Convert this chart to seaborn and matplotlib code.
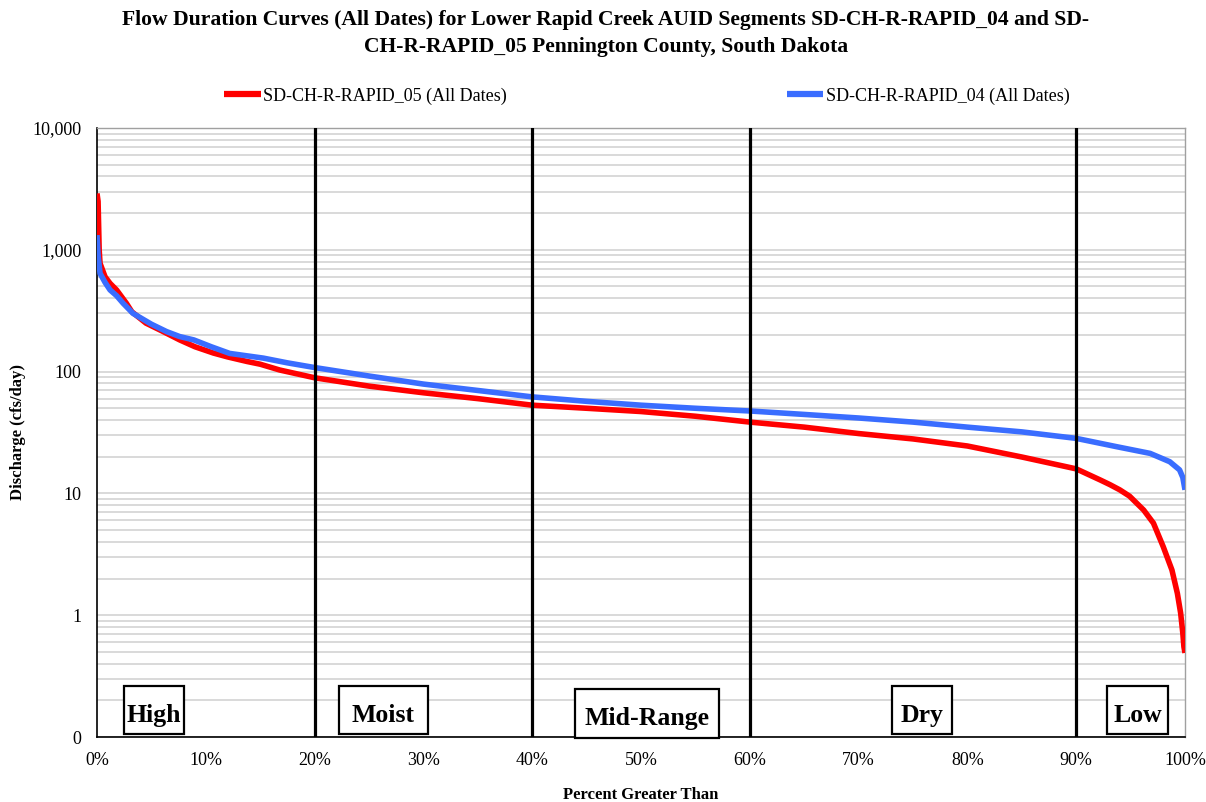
import numpy as np
import pandas as pd
import matplotlib
matplotlib.use("Agg")
import matplotlib.pyplot as plt
import seaborn as sns
from matplotlib.patches import Rectangle
from matplotlib.ticker import FixedLocator, FixedFormatter, NullFormatter

# ---------------- data ----------------
series_05 = "SD-CH-R-RAPID_05 (All Dates)"
series_04 = "SD-CH-R-RAPID_04 (All Dates)"

pct_05 = [0.0, 0.1, 0.2, 0.28, 0.74, 1.2, 1.8, 2.7, 3.2, 4.5, 6.0, 7.6, 9.0, 10.7, 12.0,
          13.8, 15.0, 16.8, 20.0, 25.0, 30.0, 35.0, 40.0, 45.0, 50.0, 55.0, 60.0,
          65.0, 70.0, 75.0, 80.0, 85.0, 90.0, 92.2, 93.1, 94.0, 94.9, 96.2, 97.1, 98.0,
          98.8, 99.3, 99.6, 99.8, 99.9, 100.0]
q_05 = [2900, 2500, 1000, 775, 601, 530, 468, 364, 310, 250, 215, 182, 160, 142, 132,
        121, 115, 103, 89, 76, 67, 60, 53, 50, 47, 43, 38.5,
        35, 31, 28, 24.5, 19.9, 15.9, 12.9, 11.8, 10.7, 9.5, 7.3, 5.7, 3.65,
        2.35, 1.51, 1.04, 0.71, 0.55, 0.49]

pct_04 = [0.0, 0.1, 0.28, 0.74, 1.2, 1.8, 2.4, 3.3, 5.0, 6.4, 7.6, 8.9, 10.5, 12.2,
          15.3, 17.5, 20.0, 25.0, 30.0, 35.0, 40.0, 45.0, 50.0, 55.0, 60.0, 65.0,
          70.0, 75.0, 80.0, 85.0, 90.0, 93.7, 96.8, 98.6, 99.5, 99.8, 100.0]
q_04 = [1320, 900, 641, 540, 468, 420, 364, 301, 245, 213, 194, 182, 160, 141,
        129, 118, 108, 92, 79, 70, 62, 57, 53, 50, 47.5, 44.5,
        41.6, 38.5, 35, 32, 28.3, 24.2, 21.3, 18.2, 15.6, 13.5, 10.7]

zone_bounds = [20, 40, 60, 90]
zone_names = ["High", "Moist", "Mid-Range", "Dry", "Low"]

x_ticks = [0, 10, 20, 30, 40, 50, 60, 70, 80, 90, 100]
x_labels = ["0%", "10%", "20%", "30%", "40%", "50%", "60%", "70%", "80%", "90%", "100%"]
y_ticks = [0.1, 1, 10, 100, 1000, 10000]
y_labels = ["0", "1", "10", "100", "1,000", "10,000"]

# ---------------- layout (not data) ----------------
# box: (x0 pct, x1 pct, y0 axes, y1 axes, text baseline axes)
zone_boxes = [(2.48, 8.0, 0.0049, 0.0837, 0.0246),
              (22.24, 30.42, 0.0049, 0.0837, 0.0246),
              (43.93, 57.17, -0.0016, 0.0788, 0.0197),
              (73.07, 78.58, 0.0049, 0.0837, 0.0246),
              (92.83, 98.44, 0.0049, 0.0837, 0.0246)]

df = pd.concat([
    pd.DataFrame({"pct": pct_05, "q": q_05, "series": series_05}),
    pd.DataFrame({"pct": pct_04, "q": q_04, "series": series_04}),
], ignore_index=True)

sns.set_style("white")
plt.rcParams["font.family"] = ["Liberation Serif", "DejaVu Serif"]
plt.rcParams["text.color"] = "black"
plt.rcParams["axes.labelcolor"] = "black"
plt.rcParams["xtick.color"] = "black"
plt.rcParams["ytick.color"] = "black"

fig = plt.figure(figsize=(12.06, 8.02), dpi=100)
ax = fig.add_axes([97 / 1206, 65 / 802, (1185 - 97) / 1206, (737 - 128) / 802])

ax.set_yscale("log")
ax.set_ylim(0.1, 10000)
ax.set_xlim(0, 100)

# gridlines (horizontal only, major and minor)
ax.yaxis.set_minor_locator(matplotlib.ticker.LogLocator(base=10, subs=np.arange(2, 10)))
ax.yaxis.set_minor_formatter(NullFormatter())
ax.grid(True, axis="y", which="both", color="#d0d0d0", linewidth=1.1, zorder=0)
ax.grid(False, axis="x")

sns.lineplot(data=df, x="pct", y="q", hue="series",
             hue_order=[series_05, series_04],
             palette={series_05: "#ff0000", series_04: "#3a6dff"},
             estimator=None, sort=False, linewidth=4, ax=ax, zorder=3)
for line in ax.get_lines():
    line.set_solid_joinstyle("round")
    line.set_solid_capstyle("butt")

for b in zone_bounds:
    ax.axvline(b, color="black", linewidth=2.3, zorder=4)

for name, (x0, x1, y0, y1, yb) in zip(zone_names, zone_boxes):
    rect = Rectangle((x0, y0), x1 - x0, y1 - y0, transform=ax.get_xaxis_transform(),
                     facecolor="white", edgecolor="black", linewidth=1.6,
                     zorder=5, clip_on=False)
    ax.add_patch(rect)
    t = ax.text((x0 + x1) / 2, yb, name, transform=ax.get_xaxis_transform(),
                ha="center", va="baseline", fontsize=18.5, fontweight="bold",
                color="black", zorder=6, clip_on=False)
    t.set_clip_path(rect)

ax.xaxis.set_major_locator(FixedLocator(x_ticks))
ax.xaxis.set_major_formatter(FixedFormatter(x_labels))
ax.yaxis.set_major_locator(FixedLocator(y_ticks))
ax.yaxis.set_major_formatter(FixedFormatter(y_labels))
ax.tick_params(axis="both", which="major", direction="out", length=5, width=1,
               color="black", labelcolor="black", labelsize=13, pad=6)
ax.tick_params(axis="y", which="minor", length=0)

for s in ["left", "bottom"]:
    ax.spines[s].set_color("black")
    ax.spines[s].set_linewidth(1.2)
for s in ["top", "right"]:
    ax.spines[s].set_color("#a0a0a0")
    ax.spines[s].set_linewidth(1.0)

ax.set_xlabel("Percent Greater Than", fontsize=12, fontweight="bold", color="black")
ax.xaxis.set_label_coords(0.5, -0.082)
ax.set_ylabel("Discharge (cfs/day)", fontsize=12, fontweight="bold", color="black")
ax.yaxis.set_label_coords(-0.0655, 0.5)

leg = ax.legend(loc="center", bbox_to_anchor=(647 / 1206, 1 - 96 / 802),
                bbox_transform=fig.transFigure, ncol=2, frameon=False,
                fontsize=13, handlelength=2.0, handletextpad=0.15,
                columnspacing=15.5)
for line in leg.get_lines():
    line.set_linewidth(4.5)
for txt in leg.get_texts():
    txt.set_color("black")

fig.text(606 / 1206, 1 - 20 / 802,
         "Flow Duration Curves (All Dates) for Lower Rapid Creek AUID Segments SD-CH-R-RAPID_04 and SD-",
         ha="center", va="center", fontsize=15.6, fontweight="bold", color="black")
fig.text(606 / 1206, 1 - 47 / 802,
         "CH-R-RAPID_05 Pennington County, South Dakota",
         ha="center", va="center", fontsize=15.6, fontweight="bold", color="black")

fig.savefig("out.png", dpi=100)
